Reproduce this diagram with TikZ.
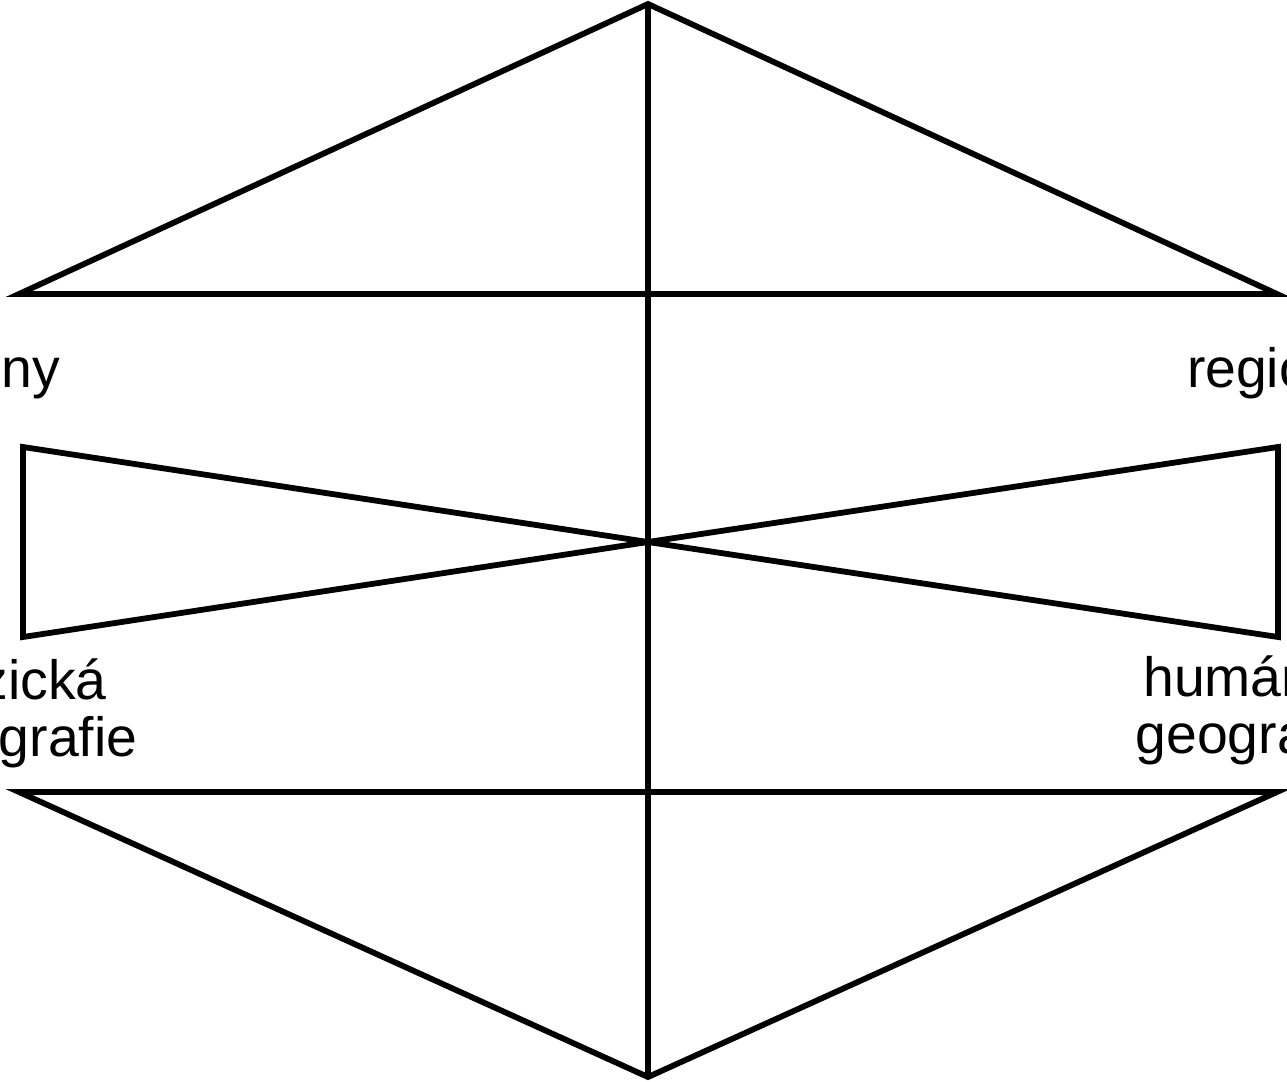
\documentclass[tikz,border=0pt]{standalone}
\usepackage{fontspec}
\setmainfont{Liberation Sans}
\begin{document}
\begin{tikzpicture}[x=0.02cm,y=-0.02cm,
  outline/.style={draw=black, line width=3.3pt, line join=miter},
  lbl/.style={inner sep=0pt, outer sep=0pt, font=\fontsize{31.5}{32.4}\selectfont, align=center}]
\useasboundingbox (0,0) rectangle (1287,1081);
\clip (0,0) rectangle (1287,1081);
% points
\coordinate (top) at (648,4);
\coordinate (bot) at (648,1077);
\coordinate (tl) at (19,294);
\coordinate (tr) at (1277,294);
\coordinate (bl) at (19,792);
\coordinate (br) at (1277,792);
\coordinate (mid) at (648,542);
\coordinate (wl1) at (23,447);
\coordinate (wl2) at (23,637);
\coordinate (wr1) at (1278,447);
\coordinate (wr2) at (1278,637);
% shapes
\draw[outline] (top) -- (tl) -- (tr) -- cycle;
\draw[outline] (bot) -- (bl) -- (br) -- cycle;
\draw[outline] (mid) -- (wl1) -- (wl2) -- cycle;
\draw[outline] (mid) -- (wr1) -- (wr2) -- cycle;
\draw[outline] (top) -- (bot);
% labels
\node[lbl, anchor=base west] (ltop) at (2,387) {ny};
\node[lbl, anchor=base west] (rtop) at (1187,387) {regionální};
\node[lbl, anchor=base] (lbot) at (22,756) {fyzická\\geografie};
\node[lbl, anchor=base] (rbot) at (1251,753) {humánní\\geografie};
\end{tikzpicture}
\end{document}
